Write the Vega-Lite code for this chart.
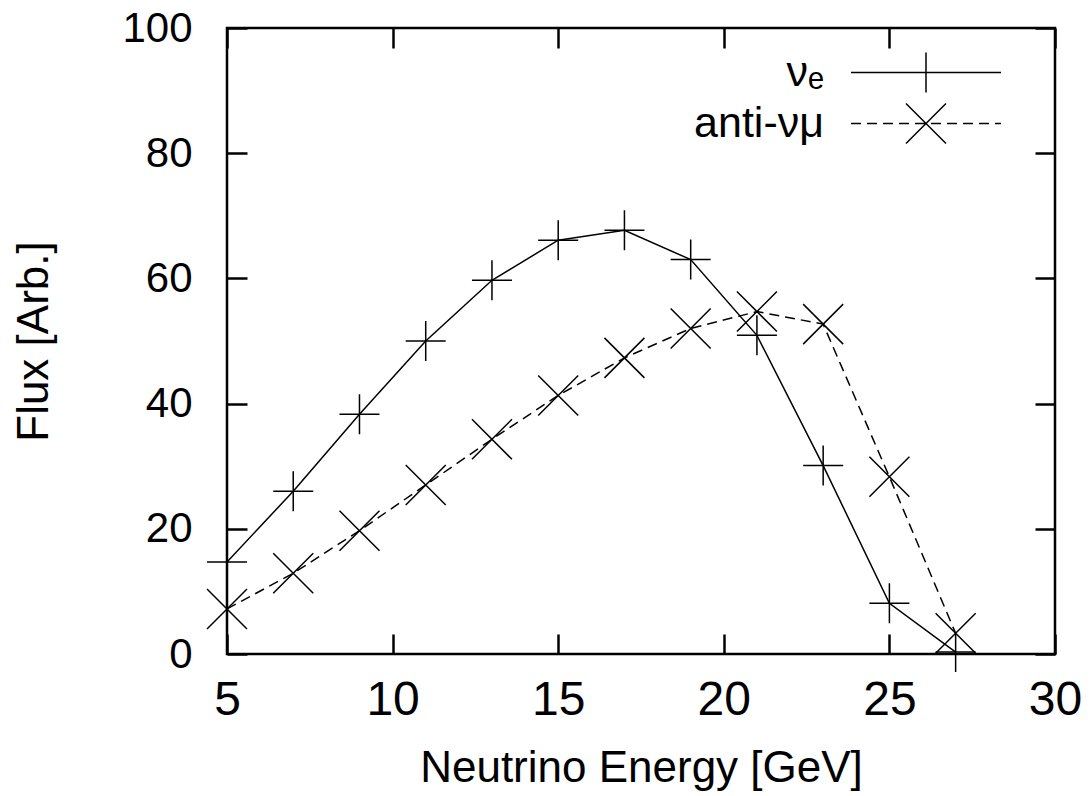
{
  "$schema": "https://vega.github.io/schema/vega-lite/v6.json",
  "autosize": {"type": "none"},
  "padding": {"left": 227, "top": 28, "right": 36, "bottom": 142},
  "width": 828,
  "height": 626,
  "background": "white",
  "config": {
    "font": "Liberation Sans",
    "view": {"stroke": "black", "strokeWidth": 2.5},
    "axis": {
      "domain": false,
      "grid": false,
      "labelFlush": false,
      "tickColor": "black",
      "tickWidth": 2.5,
      "tickSize": -20,
      "labelColor": "black",
      "labelFontSize": 42,
      "labelFont": "Liberation Sans",
      "titleFont": "Liberation Sans",
      "titleFontSize": 44,
      "titleFontWeight": "normal",
      "titleColor": "black"
    }
  },
  "data": {
    "values": [
      {"series": "νₑ", "energy": 5, "flux": 14.7},
      {"series": "νₑ", "energy": 7, "flux": 26.0},
      {"series": "νₑ", "energy": 9, "flux": 38.3},
      {"series": "νₑ", "energy": 11, "flux": 50.0},
      {"series": "νₑ", "energy": 13, "flux": 59.7},
      {"series": "νₑ", "energy": 15, "flux": 66.1},
      {"series": "νₑ", "energy": 17, "flux": 67.7},
      {"series": "νₑ", "energy": 19, "flux": 63.0},
      {"series": "νₑ", "energy": 21, "flux": 50.9},
      {"series": "νₑ", "energy": 23, "flux": 30.1},
      {"series": "νₑ", "energy": 25, "flux": 8.1},
      {"series": "νₑ", "energy": 27, "flux": 0.3},
      {"series": "anti-νμ", "energy": 5, "flux": 7.2},
      {"series": "anti-νμ", "energy": 7, "flux": 12.9},
      {"series": "anti-νμ", "energy": 9, "flux": 19.7},
      {"series": "anti-νμ", "energy": 11, "flux": 27.0},
      {"series": "anti-νμ", "energy": 13, "flux": 34.3},
      {"series": "anti-νμ", "energy": 15, "flux": 41.3},
      {"series": "anti-νμ", "energy": 17, "flux": 47.3},
      {"series": "anti-νμ", "energy": 19, "flux": 52.0},
      {"series": "anti-νμ", "energy": 21, "flux": 54.7},
      {"series": "anti-νμ", "energy": 23, "flux": 52.7},
      {"series": "anti-νμ", "energy": 25, "flux": 28.3},
      {"series": "anti-νμ", "energy": 27, "flux": 3.3}
    ]
  },
  "resolve": {
    "axis": {"x": "independent", "y": "independent"},
    "scale": {"shape": "independent"}
  },
  "layer": [
    {
      "transform": [{"filter": "datum.series === 'νₑ'"}],
      "mark": {"type": "line", "color": "black", "strokeWidth": 1.5},
      "encoding": {
        "x": {
          "field": "energy", "type": "quantitative",
          "scale": {"domain": [5, 30], "nice": false, "zero": false},
          "axis": {"orient": "bottom", "values": [5, 10, 15, 20, 25, 30], "title": "Neutrino Energy [GeV]", "labelFontSize": 48, "labelPadding": 42, "titlePadding": 22}
        },
        "y": {
          "field": "flux", "type": "quantitative",
          "scale": {"domain": [0, 100], "nice": false},
          "axis": {"orient": "left", "values": [0, 20, 40, 60, 80, 100], "title": "Flux [Arb.]", "labelPadding": 55, "titlePadding": 65}
        }
      }
    },
    {
      "transform": [{"filter": "datum.series === 'anti-νμ'"}],
      "mark": {"type": "line", "color": "black", "strokeWidth": 1.5, "strokeDash": [10, 6]},
      "encoding": {
        "x": {"field": "energy", "type": "quantitative", "axis": null},
        "y": {"field": "flux", "type": "quantitative", "axis": null}
      }
    },
    {
      "mark": {"type": "point", "filled": false, "color": "black", "strokeWidth": 1.5, "size": 1600, "opacity": 1},
      "encoding": {
        "x": {
          "field": "energy", "type": "quantitative",
          "axis": {"orient": "top", "values": [5, 10, 15, 20, 25, 30], "labels": false, "title": null}
        },
        "y": {
          "field": "flux", "type": "quantitative",
          "axis": {"orient": "right", "values": [0, 20, 40, 60, 80, 100], "labels": false, "title": null}
        },
        "shape": {
          "field": "series", "type": "nominal",
          "scale": {"domain": ["νₑ", "anti-νμ"], "range": ["M-1,0H1M0,-1V1", "M-1,-1L1,1M-1,1L1,-1"]},
          "legend": null
        }
      }
    },
    {
      "transform": [{"filter": "false"}],
      "mark": {"type": "point", "filled": false, "color": "black", "strokeWidth": 1.5, "size": 1600, "opacity": 1},
      "encoding": {
        "x": {"field": "energy", "type": "quantitative", "axis": null},
        "y": {"field": "flux", "type": "quantitative", "axis": null},
        "shape": {
          "field": "series", "type": "nominal",
          "scale": {
            "domain": ["νₑ", "anti-νμ"],
            "range": [
              "M-3.75,0H3.75M0,-1V1",
              "M-3.75,0H-3.25M-2.95,0H-2.45M-2.15,0H-1.65M-1.35,0H-0.85M-0.55,0H-0.05M0.25,0H0.75M1.05,0H1.55M1.85,0H2.35M2.65,0H3.15M3.45,0H3.75M-1,-1L1,1M-1,1L1,-1"
            ]
          },
          "legend": {
            "orient": "none",
            "legendX": 677.5,
            "legendY": 23,
            "padding": 0,
            "title": null,
            "labelFont": "Liberation Sans",
            "labelFontSize": 43,
            "labelColor": "black",
            "labelAlign": "right",
            "labelOffset": -123.5,
            "labelLimit": 400,
            "symbolSize": 1600,
            "symbolStrokeWidth": 1.5,
            "symbolStrokeColor": "black",
            "symbolFillColor": "transparent",
            "symbolOpacity": 1,
            "rowPadding": 4
          }
        }
      }
    }
  ]
}
